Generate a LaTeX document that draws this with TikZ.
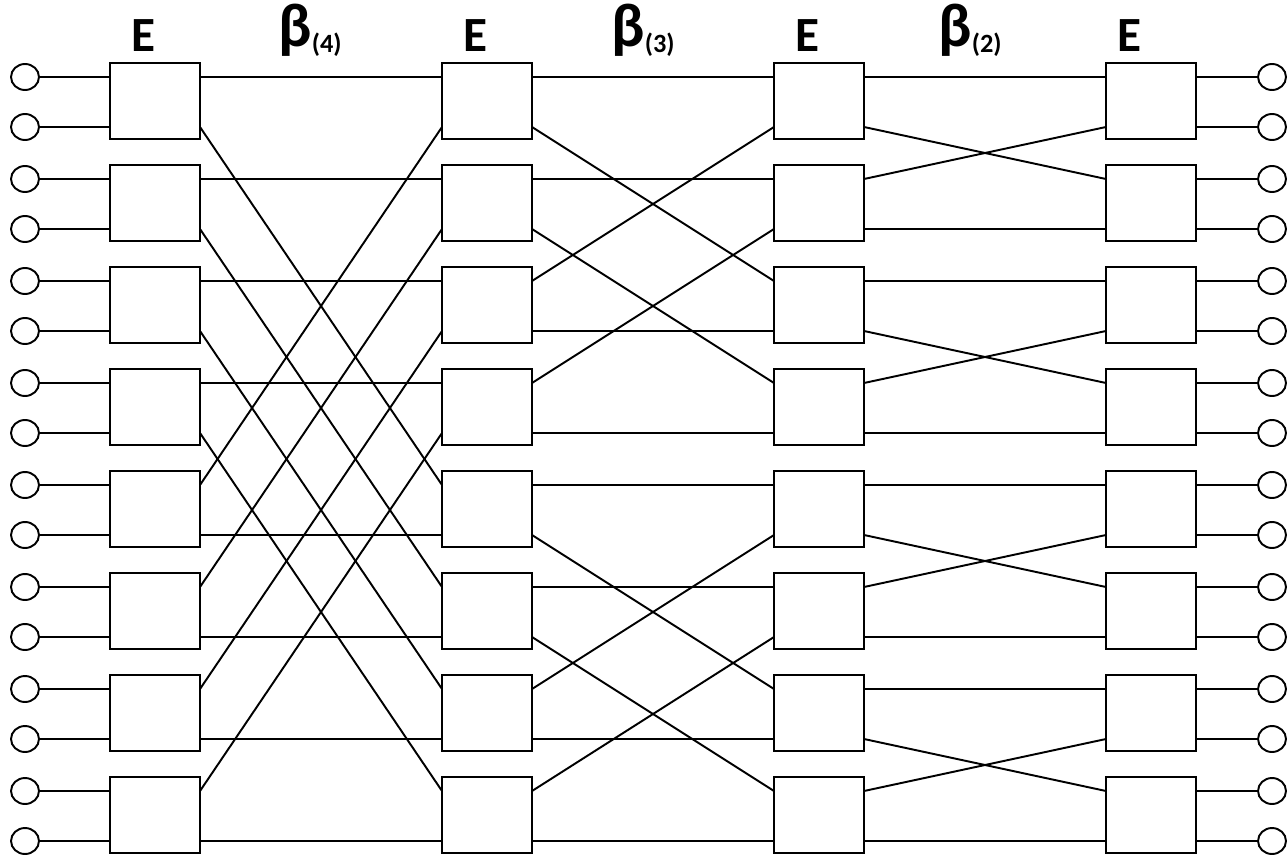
\documentclass[tikz,border=0pt]{standalone}
\usepackage{fontspec}
\setmainfont{Carlito}
\usetikzlibrary{shapes.geometric}
\tikzset{
  switchbox/.style={draw, line width=1.1pt, minimum width=1.8cm, minimum height=1.52cm, inner sep=0pt, outer sep=0pt},
  terminal/.style={draw, ellipse, line width=1.1pt, minimum width=0.56cm, minimum height=0.52cm, inner sep=0pt, outer sep=0pt},
  stagelabel/.style={font=\fontsize{28}{30}\selectfont\bfseries, inner sep=0pt, anchor=base},
  betalabel/.style={font=\fontsize{35}{36}\selectfont\bfseries, inner sep=0pt, anchor=base},
  wire/.style={line width=1.1pt}
}
\newcommand{\sublbl}[1]{\raisebox{-0.12cm}{\fontsize{15}{16}\selectfont\bfseries(#1)}}

\begin{document}
\begin{tikzpicture}[x=0.02cm, y=-0.02cm]
  \useasboundingbox (0,0) rectangle (1287,858);
  % stage labels
  \node[stagelabel] (e1) at (143,52) {E};
  \node[stagelabel] (e2) at (475,52) {E};
  \node[stagelabel] (e3) at (807,52) {E};
  \node[stagelabel] (e4) at (1129,52) {E};
  \node[betalabel] (beta4) at (310,47) {β\sublbl{4}};
  \node[betalabel] (beta3) at (643,47) {β\sublbl{3}};
  \node[betalabel] (beta2) at (970,47) {β\sublbl{2}};
  % switch boxes and their ports
  \foreach \c/\x in {1/155,2/487,3/819,4/1151}{
    \foreach \b in {1,...,8}{
      \node[switchbox] (c\c b\b) at (\x,{101+(\b-1)*102}) {};
      \coordinate (c\c b\b-lu) at ([yshift=-0.28cm]c\c b\b.north west);
      \coordinate (c\c b\b-ll) at ([yshift=-1.28cm]c\c b\b.north west);
      \coordinate (c\c b\b-ru) at ([yshift=-0.28cm]c\c b\b.north east);
      \coordinate (c\c b\b-rl) at ([yshift=-1.28cm]c\c b\b.north east);
    }
  }
  % inputs and outputs
  \foreach \b in {1,...,8}{
    \pgfmathtruncatemacro\ku{2*\b-1}
    \pgfmathtruncatemacro\kl{2*\b}
    \node[terminal] (in\ku) at (25,{77+(\b-1)*102}) {};
    \node[terminal] (in\kl) at (25,{127+(\b-1)*102}) {};
    \node[terminal] (out\ku) at (1272,{77+(\b-1)*102}) {};
    \node[terminal] (out\kl) at (1272,{127+(\b-1)*102}) {};
    \draw[wire] (in\ku) -- (c1b\b-lu);
    \draw[wire] (in\kl) -- (c1b\b-ll);
    \draw[wire] (c4b\b-ru) -- (out\ku);
    \draw[wire] (c4b\b-rl) -- (out\kl);
  }
  % shuffle stages
  \foreach \c/\h in {1/4,2/2,3/1}{
    \pgfmathtruncatemacro\n{\c+1}
    \foreach \b in {1,...,8}{
      \pgfmathtruncatemacro\p{mod(\b-1,2*\h)}
      \ifnum\p<\h
        \pgfmathtruncatemacro\t{\b+\h}
        \draw[wire] (c\c b\b-ru) -- (c\n b\b-lu);
        \draw[wire] (c\c b\b-rl) -- (c\n b\t-lu);
      \else
        \pgfmathtruncatemacro\t{\b-\h}
        \draw[wire] (c\c b\b-ru) -- (c\n b\t-ll);
        \draw[wire] (c\c b\b-rl) -- (c\n b\b-ll);
      \fi
    }
  }
\end{tikzpicture}
\end{document}
